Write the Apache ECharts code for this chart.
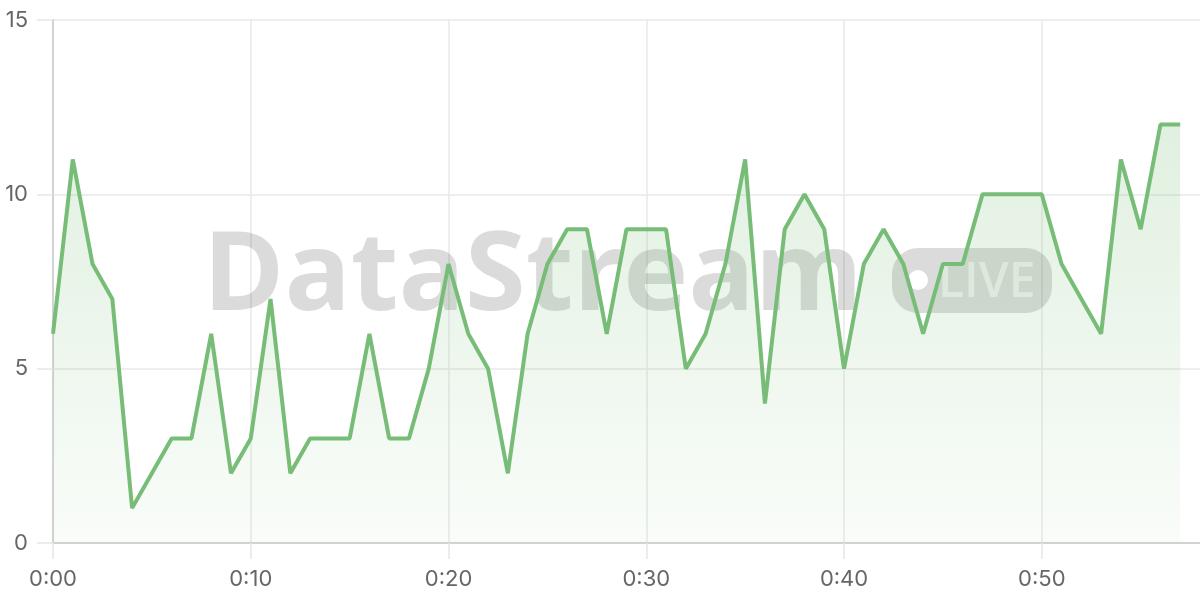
<!DOCTYPE html>
<html>
<head>
<meta charset="utf-8">
<style>
html,body{margin:0;padding:0;background:#fff;}
#chart{width:1200px;height:600px;}
</style>
<script src="https://cdn.jsdelivr.net/npm/echarts@6/dist/echarts.min.js"></script>
</head>
<body>
<div id="chart"></div>
<script>
// x-axis categories: one per minute, axis runs one step past the last sample
const categories = Array.from({length: 59}, (_, i) => '0:' + String(i).padStart(2, '0'));
// series values (one per minute, 0:00 .. 0:57)
const values = [6, 11, 8, 7, 1, 2, 3, 3, 6, 2,
                3, 7, 2, 3, 3, 3, 6, 3, 3, 5,
                8, 6, 5, 2, 6, 8, 9, 9, 6, 9,
                9, 9, 5, 6, 8, 11, 4, 9, 10, 9,
                5, 8, 9, 8, 6, 8, 8, 10, 10, 10,
                10, 8, 7, 6, 11, 9, 12, 12];
const yTicks = [0, 5, 10, 15];
const watermarkText = 'DataStream';
const badgeText = 'LIVE';

const chart = echarts.init(document.getElementById('chart'));
const labelFont = {color: '#666', fontSize: 22, fontFamily: 'Inter'};
chart.setOption({
  animation: false,
  backgroundColor: '#fff',
  grid: {left: 53, right: 0, top: 20, bottom: 57, containLabel: false, outerBoundsMode: 'none'},
  xAxis: {
    type: 'category',
    data: categories,
    boundaryGap: false,
    axisLine: {show: true, lineStyle: {color: '#d2d2d2', width: 2}},
    axisTick: {show: true, interval: 9, length: 16, lineStyle: {color: '#e6e6e6', width: 1.5}},
    axisLabel: Object.assign({interval: 9, margin: 25}, labelFont),
    splitLine: {show: true, interval: 9, lineStyle: {color: '#e9e9e9', width: 1.5}}
  },
  yAxis: {
    type: 'value',
    min: yTicks[0],
    max: yTicks[yTicks.length - 1],
    interval: 5,
    axisLine: {show: true, lineStyle: {color: '#d2d2d2', width: 2}},
    axisTick: {show: true, length: 16, lineStyle: {color: '#e6e6e6', width: 1.5}},
    axisLabel: Object.assign({margin: 25}, labelFont),
    splitLine: {show: true, lineStyle: {color: '#e9e9e9', width: 1.5}}
  },
  graphic: {
    elements: [
      {
        type: 'text', z: 1, x: 203, y: 279,
        style: {
          text: watermarkText,
          font: 'bold 110px "Open Sans"',
          fill: 'rgba(0,0,0,0.14)',
          align: 'left', verticalAlign: 'middle'
        }
      },
      {
        type: 'rect', z: 1,
        shape: {x: 892, y: 248, width: 160, height: 65, r: 26},
        style: {fill: 'rgba(0,0,0,0.14)'}
      },
      {
        type: 'circle', z: 1,
        shape: {cx: 918, cy: 280, r: 10},
        style: {fill: '#ffffff'}
      },
      {
        type: 'text', z: 1, x: 938, y: 283,
        style: {
          text: badgeText,
          font: '600 48px "Open Sans"',
          fill: 'rgba(255,255,255,0.6)',
          align: 'left', verticalAlign: 'middle'
        }
      }
    ]
  },
  series: [{
    type: 'line',
    data: values,
    symbol: 'none',
    z: 2,
    lineStyle: {color: '#77bd77', width: 4},
    areaStyle: {
      color: new echarts.graphic.LinearGradient(0, 0, 0, 1, [
        {offset: 0, color: 'rgba(119,189,119,0.32)'},
        {offset: 1, color: 'rgba(119,189,119,0.06)'}
      ])
    }
  }]
});
</script>
</body>
</html>
